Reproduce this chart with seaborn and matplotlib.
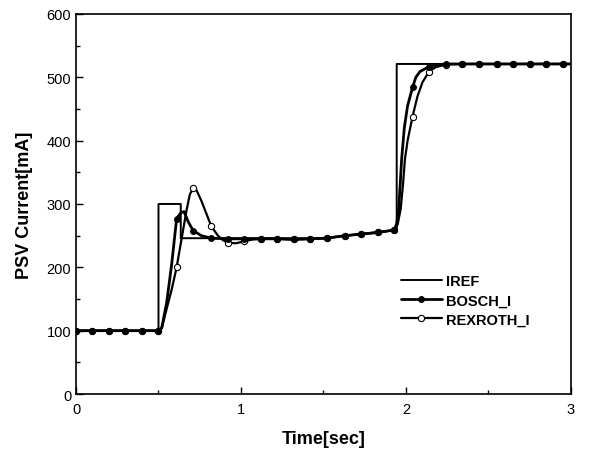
import numpy as np
import pandas as pd
import matplotlib.pyplot as plt
import seaborn as sns
from matplotlib.ticker import MultipleLocator

# ---- data ----
iref_t = [0, 0.5, 0.5, 0.635, 0.635, 1.5, 1.944, 1.944, 3.0]
iref_i = [100, 100, 300, 300, 246, 246, 259, 521, 521]

bosch_t = [0, 0.1, 0.2, 0.3, 0.4, 0.5, 0.52, 0.55, 0.58, 0.61, 0.635, 0.655,
           0.68, 0.71, 0.76, 0.82, 0.92, 1.02, 1.12, 1.22, 1.32, 1.42, 1.52,
           1.63, 1.73, 1.83, 1.93, 1.945, 1.956, 1.965, 1.974, 1.99, 2.01,
           2.04, 2.06, 2.085, 2.12, 2.14, 2.17, 2.24, 2.34, 2.44, 2.55, 2.65,
           2.75, 2.85, 2.95, 3.0]
bosch_i = [100, 100, 100, 100, 100, 100, 105, 145, 205, 277, 286, 288,
           272, 258, 250, 246, 245, 245, 245, 245, 244, 245, 246,
           250, 252.5, 255, 259, 270, 292, 330, 371, 420, 455,
           484, 500, 509, 514, 516, 519, 521, 521, 521, 521, 521,
           521, 521, 521, 521]

rex_t = [0, 0.1, 0.2, 0.3, 0.4, 0.5, 0.52, 0.55, 0.58, 0.61, 0.64, 0.67,
         0.69, 0.71, 0.73, 0.76, 0.79, 0.82, 0.86, 0.89, 0.92, 0.97, 1.02,
         1.07, 1.12, 1.22, 1.32, 1.42, 1.52, 1.63, 1.73, 1.83, 1.93, 1.95,
         1.968, 1.982, 1.994, 2.01, 2.04, 2.07, 2.1, 2.14, 2.18, 2.24, 2.34,
         2.44, 2.55, 2.65, 2.75, 2.85, 2.95, 3.0]
rex_i = [100, 100, 100, 100, 100, 100, 104, 135, 165, 200, 245, 290,
         315, 325, 322, 305, 285, 265, 250, 243, 239, 238, 241,
         244, 245, 245, 244, 245, 246, 250, 252.5, 255, 259, 268,
         292, 330, 371, 400, 438, 470, 492, 509, 516, 520, 521,
         521, 521, 521, 521, 521, 521, 521]

marker_t = [0, 0.1, 0.2, 0.3, 0.4, 0.5, 0.61, 0.71, 0.82, 0.92, 1.02, 1.12,
            1.22, 1.32, 1.42, 1.52, 1.63, 1.73, 1.83, 1.93, 2.04, 2.14, 2.24,
            2.34, 2.44, 2.55, 2.65, 2.75, 2.85, 2.95]

iref_df = pd.DataFrame({"t": iref_t, "i": iref_i})
bosch_df = pd.DataFrame({"t": bosch_t, "i": bosch_i})
rex_df = pd.DataFrame({"t": rex_t, "i": rex_i})

sns.set_style("ticks")
plt.rcParams["font.family"] = ["Liberation Sans", "DejaVu Sans"]
plt.rcParams["axes.labelcolor"] = "black"
plt.rcParams["text.color"] = "black"

fig = plt.figure(figsize=(5.91, 4.52), dpi=100)
ax = fig.add_axes([0.1286, 0.126, 0.8374, 0.841])

sns.lineplot(data=iref_df, x="t", y="i", estimator=None, sort=False,
             color="black", linewidth=1.4, label="IREF", ax=ax)

sns.lineplot(data=rex_df, x="t", y="i", estimator=None, sort=False,
             color="black", linewidth=1.6, marker="o", markersize=4.5,
             markerfacecolor="white", markeredgecolor="black", markeredgewidth=0.8,
             markevery=list(np.isin(rex_df["t"], marker_t)),
             label="REXROTH_I", ax=ax, zorder=2)

sns.lineplot(data=bosch_df, x="t", y="i", estimator=None, sort=False,
             color="black", linewidth=2.0, marker="o", markersize=4.2,
             markerfacecolor="black", markeredgecolor="black",
             markevery=list(np.isin(bosch_df["t"], marker_t)),
             label="BOSCH_I", ax=ax, zorder=3)

ax.set_xlim(0, 3)
ax.set_ylim(0, 600)
ax.xaxis.set_major_locator(MultipleLocator(1))
ax.xaxis.set_minor_locator(MultipleLocator(0.5))
ax.yaxis.set_major_locator(MultipleLocator(100))
ax.yaxis.set_minor_locator(MultipleLocator(50))
ax.tick_params(which="both", direction="in", labelsize=10.5, colors="black")
ax.tick_params(which="major", length=5, width=1)
ax.tick_params(which="minor", length=3, width=1)
ax.tick_params(axis="x", pad=6)
for sp in ax.spines.values():
    sp.set_visible(True)
    sp.set_color("black")
    sp.set_linewidth(1.2)

ax.set_xlabel("Time[sec]", fontsize=13, fontweight="bold", labelpad=10)
ax.set_ylabel("PSV Current[mA]", fontsize=13, fontweight="bold", labelpad=10)

handles, labels = ax.get_legend_handles_labels()
order = [labels.index(n) for n in ["IREF", "BOSCH_I", "REXROTH_I"]]
ax.legend([handles[k] for k in order], [labels[k] for k in order],
          loc="upper left", bbox_to_anchor=(0.63, 0.35), frameon=False,
          prop={"weight": "bold", "size": 10.5}, handlelength=2.8,
          handletextpad=0.3, labelspacing=0.35)

fig.savefig("out.png", dpi=100)
